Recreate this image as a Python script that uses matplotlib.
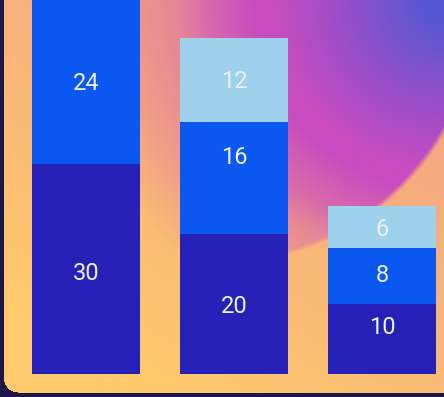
import numpy as np
import matplotlib
matplotlib.use("Agg")
import matplotlib.pyplot as plt

# ---- data ----
categories = ["A", "B", "C"]
series_bottom = [30, 20, 10]
series_middle = [24, 16, 8]
series_top = [18, 12, 6]   # first bar's top segment lies outside the visible area
# relative vertical position of each label inside its segment (as seen)
label_frac_bottom = [0.48, 0.48, 0.67]
label_frac_middle = [0.48, 0.68, 0.50]
label_frac_top = [0.48, 0.48, 0.43]

colors = ["#2620B6", "#0B58F0", "#9ED2EC"]

W, H = 444, 397
fig = plt.figure(figsize=(W / 100, H / 100), dpi=100)

# ---- background (decorative gradient card) ----
yy, xx = np.mgrid[0:H, 0:W].astype(float)
def hexrgb(h):
    h = h.lstrip('#')
    return np.array([int(h[i:i + 2], 16) / 255 for i in (0, 2, 4)])

yellow = hexrgb("#FFCA6C")
salmon = hexrgb("#F3A286")
t = np.clip(0.8 * (1 - yy / H) + 0.55 * (xx / W) - 0.2, 0, 1)[..., None]
img = yellow * (1 - t) + salmon * t

# blob: radial from top-right corner, cut by a circle on its lower right
cx, cy, R = 214.0, 0.0, 265.0
d = np.hypot(xx - cx, yy - cy)
edge = np.clip((R - d) / 5.0, 0, 1)
dc = np.hypot(xx - W, yy - 0)
fade = np.clip((370 - dc) / 130.0, 0, 1)
alpha = (edge * fade)[..., None]
blue = hexrgb("#5558D2")
purple = hexrgb("#9E4EC8")
magenta = hexrgb("#C84CC0")
pink = hexrgb("#E27E9C")
def lerp(a, b, s):
    return a * (1 - s) + b * s
dcx = dc[..., None]
c1 = lerp(blue, purple, np.clip((dcx - 20) / 90, 0, 1))
c2 = lerp(c1, magenta, np.clip((dcx - 110) / 60, 0, 1))
blobc = lerp(c2, pink, np.clip((dcx - 190) / 80, 0, 1))
img = img * (1 - alpha) + blobc * alpha

# dark frame outside rounded card
dark = hexrgb("#1E1648")
rad = 14.0
left, bottom = 3.5, 392.0
outside = (xx < left) | (yy > bottom)
corner = (xx < left + rad) & (yy > bottom - rad)
cd = np.hypot(xx - (left + rad), yy - (bottom - rad))
outside |= corner & (cd > rad)
img[outside] = dark

bg = fig.add_axes([0, 0, 1, 1])
bg.imshow(img, extent=[0, W, H, 0], aspect='auto', interpolation='bilinear')
bg.set_axis_off()

# ---- bars ----
ax = fig.add_axes([0, 0, 1, 1])
ax.patch.set_alpha(0)
x = np.arange(len(categories))
width = 0.73
b1 = np.array(series_bottom, float)
b2 = np.array(series_middle, float)
b3 = np.array(series_top, float)
kw = dict(width=width, linewidth=0)
ax.bar(x, b1, color=colors[0], **kw)
ax.bar(x, b2, bottom=b1, color=colors[1], **kw)
ax.bar(x, b3, bottom=b1 + b2, color=colors[2], **kw)

ymin, ymax = -(H - 374) / 7, 374 / 7

def labels(vals, bottoms, fracs):
    for xi, v, b, f in zip(x, vals, bottoms, fracs):
        yc = b + v * f
        if yc > ymax:
            continue   # label lies outside the visible window
        ax.text(xi, yc, f"{int(v)}", ha='center', va='center',
                color='#EEF0FA', fontsize=17, family=['Roboto', 'DejaVu Sans'])

labels(b1, np.zeros(3), label_frac_bottom)
labels(b2, b1, label_frac_middle)
labels(b3, b1 + b2, label_frac_top)

ax.set_xlim(-86 / 148, 2 + (W - 382) / 148)
ax.set_ylim(ymin, ymax)
ax.set_axis_off()

fig.savefig("out.png", dpi=100)
